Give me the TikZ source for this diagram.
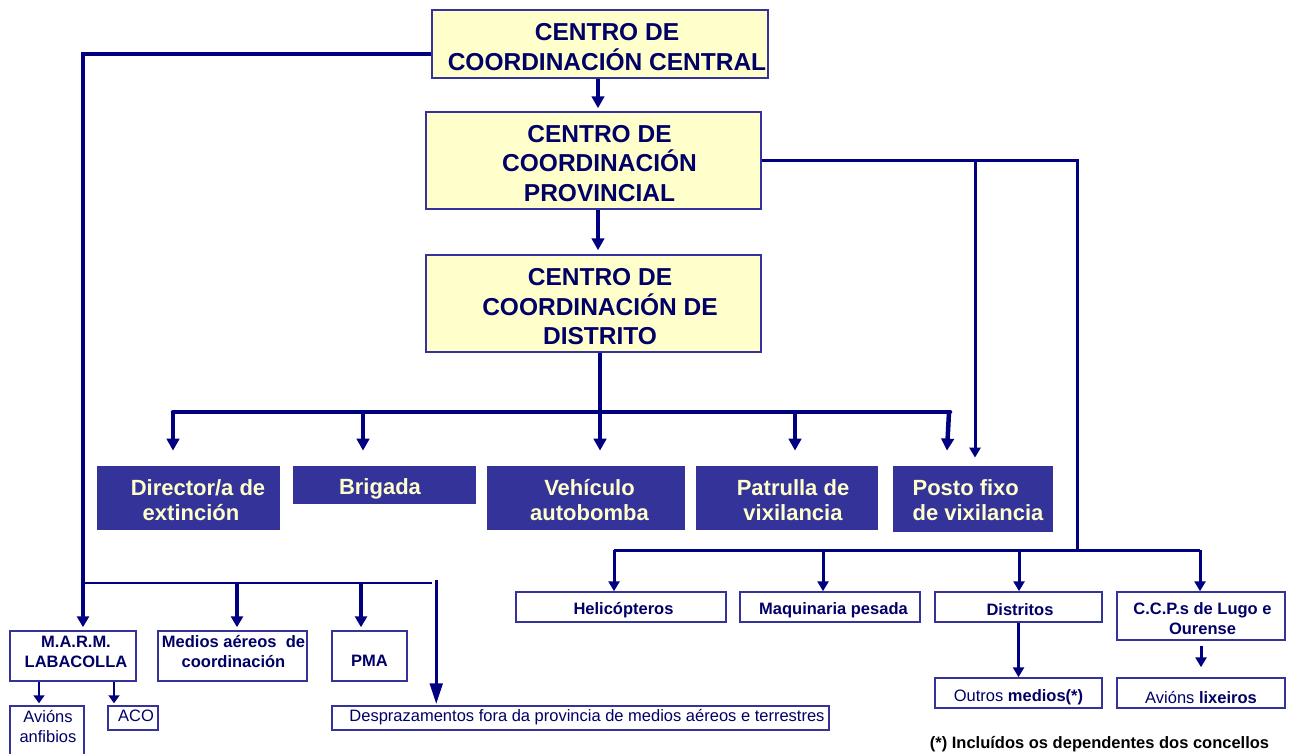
\documentclass[tikz,border=0pt]{standalone}
\usepackage{fontspec}
\setmainfont{Liberation Sans}
\usetikzlibrary{arrows.meta,calc}
\definecolor{linecol}{RGB}{0,0,128}
\definecolor{boxborder}{RGB}{51,51,153}
\definecolor{darkfill}{RGB}{51,51,153}
\definecolor{paleyellow}{RGB}{255,255,204}
\definecolor{textnavy}{RGB}{0,0,102}
\tikzset{
  ybox/.style={draw=boxborder, line width=1.5pt, fill=paleyellow, inner sep=0pt},
  dbox/.style={fill=darkfill, draw=darkfill, line width=0.8pt, inner sep=0pt},
  wbox/.style={draw=boxborder, line width=1.5pt, fill=white, inner sep=0pt},
  ytxt/.style={align=center, inner sep=0pt, text=textnavy, font=\fontsize{24.5}{29.5}\selectfont\bfseries},
  dtxt/.style={align=center, inner sep=0pt, text=paleyellow, font=\fontsize{22}{25.5}\selectfont\bfseries},
  wtxt/.style={align=center, inner sep=0pt, text=textnavy, font=\fontsize{16.5}{20}\selectfont\bfseries},
  wreg/.style={wtxt, font=\fontsize{16.5}{20}\selectfont},
  conn/.style={draw=linecol, line width=3pt},
  heavyconn/.style={draw=linecol, line width=4.5pt},
  thinconn/.style={draw=linecol, line width=2pt},
  arr/.style={conn, -{Triangle[length=10pt,width=11pt]}},
  heavyarr/.style={heavyconn, -{Triangle[length=12pt,width=12.5pt]}},
  leftarr/.style={draw=linecol, line width=4pt, -{Triangle[length=11pt,width=12pt]}},
  smallarr/.style={draw=linecol, line width=2.5pt, -{Triangle[length=8pt,width=11pt]}},
  bigarr/.style={draw=linecol, line width=3.5pt, -{Triangle[length=21pt,width=12.5pt]}},
}
\begin{document}
\begin{tikzpicture}[x=1pt,y=-1pt]
\useasboundingbox (0,0) rectangle (1289,753);
\clip (0,0) rectangle (1289,753);

% yellow centres
\node[ybox, minimum width=336pt, minimum height=68pt,
  label={[ytxt, xshift=7pt, yshift=-3pt]center:{CENTRO DE\\COORDINACIÓN CENTRAL}}] (central) at (600,44) {};
\node[ybox, minimum width=335pt, minimum height=97pt,
  label={[ytxt, xshift=6pt, yshift=-3pt]center:{CENTRO DE\\COORDINACIÓN\\PROVINCIAL}}] (prov) at (593.5,160.5) {};
\node[ybox, minimum width=335pt, minimum height=97pt,
  label={[ytxt, xshift=6.5pt, yshift=-3.5pt]center:{CENTRO DE\\COORDINACIÓN DE\\DISTRITO}}] (dist) at (593.5,303.5) {};

% dark boxes
\node[dbox, minimum width=182pt, minimum height=63pt,
  label={[dtxt, xshift=3pt, yshift=-2.5pt]center:{\hspace*{14pt}Director/a de\\extinción}}] (director) at (188,497.5) {};
\node[dbox, minimum width=182pt, minimum height=37pt,
  label={[dtxt, xshift=-4pt, yshift=-4pt]center:{Brigada}}] (brigada) at (384,484.5) {};
\node[dbox, minimum width=197pt, minimum height=63pt,
  label={[dtxt, xshift=4pt, yshift=-2.5pt]center:{Vehículo\\autobomba}}] (veh) at (585.5,497.5) {};
\node[dbox, minimum width=181pt, minimum height=63pt,
  label={[dtxt, xshift=6.5pt, yshift=-2.5pt]center:{Patrulla de\\vixilancia}}] (patrulla) at (786.5,497.5) {};
\node[dbox, minimum width=159pt, minimum height=65pt,
  label={[dtxt, align=left, xshift=5.5pt, yshift=-1.5pt]center:{Posto fixo\\de vixilancia}}] (posto) at (972.5,498.5) {};

% right lower boxes
\node[wbox, minimum width=210pt, minimum height=30pt,
  label={[wtxt, xshift=2.5pt, yshift=-3pt]center:{Helicópteros}}] (heli) at (621,607) {};
\node[wbox, minimum width=180pt, minimum height=30pt,
  label={[wtxt, xshift=3.5pt, yshift=-3pt]center:{Maquinaria pesada}}] (maq) at (830,607) {};
\node[wbox, minimum width=167pt, minimum height=30pt,
  label={[wtxt, xshift=1.5pt, yshift=-3pt]center:{Distritos}}] (distr) at (1018.5,607) {};
\node[wbox, minimum width=168pt, minimum height=48pt,
  label={[wtxt, xshift=1.5pt, yshift=-3pt]center:{C.C.P.s de Lugo e\\Ourense}}] (ccp) at (1201,616) {};
\node[wbox, minimum width=167pt, minimum height=30pt,
  label={[wreg, yshift=-4pt]center:{Outros \textbf{medios(*)}}}] (outros) at (1018.5,693) {};
\node[wbox, minimum width=168pt, minimum height=30pt,
  label={[wreg, yshift=-4pt]center:{Avións \textbf{lixeiros}}}] (avl) at (1201,693) {};

% left lower boxes
\node[wbox, minimum width=126pt, minimum height=50pt,
  label={[wtxt, xshift=3pt, yshift=4pt]center:{M.A.R.M.\\LABACOLLA}}] (marm) at (73,656) {};
\node[wbox, minimum width=149pt, minimum height=50pt,
  label={[wtxt, xshift=1pt, yshift=4.5pt]center:{Medios aéreos\ \ de\\coordinación}}] (medios) at (232.5,656) {};
\node[wbox, minimum width=75pt, minimum height=50pt,
  label={[wtxt, yshift=-5pt]center:{PMA}}] (pma) at (369.5,656) {};
\node[wbox, minimum width=74pt, minimum height=58pt,
  label={[wreg, xshift=1pt, yshift=9pt]center:{Avións\\anfibios}}] (anf) at (47,735) {};
\node[wbox, minimum width=50pt, minimum height=24pt,
  label={[wreg, xshift=3pt, yshift=2pt]center:{ACO}}] (aco) at (133,718) {};
\node[wbox, minimum width=497pt, minimum height=24pt,
  label={[wreg, xshift=6.5pt, yshift=1pt]center:{Desprazamentos fora da provincia de medios aéreos e terrestres}}] (desp) at (580.5,718) {};

\node[anchor=base, font=\fontsize{16.5}{20}\selectfont\bfseries, text=black, inner sep=0pt] (note) at (1099.5,748) {(*) Incluídos os dependentes dos concellos};

% main chain
\draw[heavyarr] ([xshift=-2pt]central.south) -- ([xshift=4.5pt,yshift=3pt]prov.north);
\draw[heavyarr] ([xshift=4.5pt]prov.south) -- ([xshift=4.5pt,yshift=4pt]dist.north);

% district bus
\coordinate (bL) at (173,412);
\coordinate (bR) at (950,412);
\draw[heavyconn] ([xshift=6.5pt]dist.south) -- ([xshift=6.5pt]dist.south |- bL);
\draw[heavyconn, line cap=round] (bL) -- (bR);
\draw[heavyarr] (bL) -- ([xshift=-15pt,yshift=15pt]director.north);
\draw[heavyarr] ([xshift=-21pt]brigada.north |- bL) -- ([xshift=-21pt,yshift=15pt]brigada.north);
\draw[heavyarr] ([xshift=14.5pt]veh.north |- bL) -- ([xshift=14.5pt,yshift=15pt]veh.north);
\draw[heavyarr] ([xshift=8.5pt]patrulla.north |- bL) -- ([xshift=8.5pt,yshift=15pt]patrulla.north);
\draw[heavyarr] ([xshift=-1pt]bR) -- ([xshift=-25.5pt,yshift=15pt]posto.north);

% provincial right branch
\coordinate (r1) at (1077,160.5);
\coordinate (rb) at (1077,550);
\draw[conn] (prov.east) -- (r1) -- (rb);
\draw[arr] ([xshift=2.5pt]posto.north |- r1) -- ([xshift=2.5pt,yshift=8pt]posto.north);
\draw[conn] ([xshift=-7pt]heli.north |- rb) -- ([xshift=-1pt]ccp.north |- rb);
\draw[arr] ([xshift=-7pt]heli.north |- rb) -- ([xshift=-7pt]heli.north);
\draw[arr] ([xshift=-7pt]maq.north |- rb) -- ([xshift=-7pt]maq.north);
\draw[arr] ([xshift=0.5pt]distr.north |- rb) -- ([xshift=0.5pt]distr.north);
\draw[arr] ([xshift=-1pt]ccp.north |- rb) -- ([xshift=-1pt]ccp.north);
\draw[arr] (distr.south) -- (outros.north);
\draw[arr] ([yshift=-5pt]ccp.south) -- ([yshift=10pt]avl.north);

% left branch
\coordinate (L1) at (83,54);
\coordinate (lb) at (83,583);
\draw[leftarr] ([yshift=-10pt]central.west) -- (L1) -- ([xshift=10pt,yshift=3pt]marm.north);
\draw[thinconn] (lb) -- (432,583);
\draw[leftarr] ([xshift=4.5pt]medios.north |- lb) -- ([xshift=4.5pt,yshift=3pt]medios.north);
\draw[leftarr] ([xshift=-8.5pt]pma.north |- lb) -- ([xshift=-8.5pt,yshift=3pt]pma.north);
\draw[bigarr] ($(desp.north west)+(105,-125)$) -- ($(desp.north west)+(105,-1)$);
\draw[smallarr] ([xshift=-34pt]marm.south) -- ([xshift=-8pt,yshift=2pt]anf.north);
\draw[smallarr] ([xshift=41pt]marm.south) -- ([xshift=-19pt,yshift=2pt]aco.north);
\end{tikzpicture}
\end{document}
